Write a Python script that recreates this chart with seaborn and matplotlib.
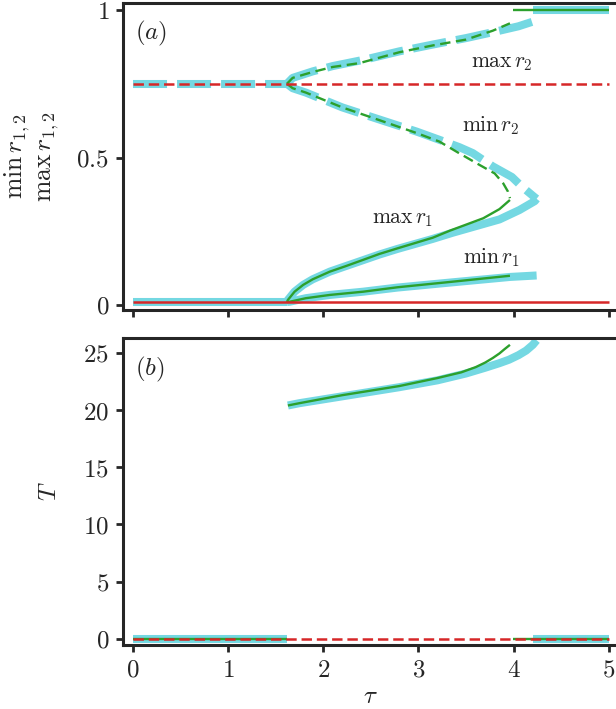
import numpy as np
import matplotlib
matplotlib.use("Agg")
import matplotlib.pyplot as plt
import seaborn as sns

sns.set_style("ticks")
plt.rcParams["mathtext.fontset"] = "cm"
plt.rcParams["font.family"] = ["DejaVu Serif"]
plt.rcParams["lines.scale_dashes"] = False

# colours
CYAN = "#74d8e2"
GREEN = "#2ca02c"
RED = "#d62728"

# ---- panel (a): min / max of r1, r2 vs tau ----
tau_split = 1.62

# green (computed) branches
g_maxr2_tau = [1.62, 1.68, 1.89, 2.1, 2.38, 2.8, 3.15, 3.5, 3.78, 3.96]
g_maxr2_val = [0.75, 0.77, 0.79, 0.807, 0.82, 0.857, 0.88, 0.90, 0.93, 0.955]
g_minr2_tau = [1.62, 1.68, 1.82, 2.2, 2.56, 2.98, 3.22, 3.43, 3.64, 3.80, 3.89, 3.94, 3.96]
g_minr2_val = [0.75, 0.735, 0.72, 0.67, 0.63, 0.583, 0.554, 0.514, 0.475, 0.446, 0.412, 0.384, 0.362]
g_maxr1_tau = [1.62, 1.63, 1.70, 1.79, 1.89, 2.07, 2.24, 2.42, 2.59, 2.78, 3.15, 3.33, 3.43, 3.68, 3.85, 3.96]
g_maxr1_val = [0.01, 0.017, 0.045, 0.068, 0.087, 0.113, 0.132, 0.153, 0.173, 0.192, 0.228, 0.252, 0.264, 0.294, 0.325, 0.356]
g_minr1_tau = [1.62, 1.65, 1.82, 2.07, 2.42, 2.78, 3.3, 3.96]
g_minr1_val = [0.01, 0.011, 0.023, 0.034, 0.045, 0.06, 0.077, 0.099]

# cyan (reference) branches
c_maxr2_tau = [1.62, 1.68, 1.89, 2.1, 2.45, 2.8, 3.15, 3.5, 3.85, 4.05, 4.24]
c_maxr2_val = [0.75, 0.77, 0.792, 0.81, 0.833, 0.86, 0.883, 0.905, 0.93, 0.945, 0.965]
c_minr2_tau = [1.62, 1.68, 1.82, 2.2, 2.56, 2.98, 3.22, 3.43, 3.57, 3.78, 3.98, 4.09, 4.22, 4.24]
c_minr2_val = [0.75, 0.735, 0.72, 0.67, 0.632, 0.588, 0.56, 0.535, 0.515, 0.47, 0.434, 0.40, 0.365, 0.36]
c_maxr1_tau = [1.62, 1.63, 1.70, 1.79, 1.89, 2.07, 2.24, 2.42, 2.59, 2.78, 3.15, 3.36, 3.61, 3.85, 4.06, 4.22, 4.24]
c_maxr1_val = [0.01, 0.017, 0.045, 0.068, 0.087, 0.113, 0.132, 0.152, 0.171, 0.19, 0.224, 0.245, 0.268, 0.29, 0.322, 0.352, 0.36]
c_minr1_tau = [1.62, 1.65, 1.82, 2.07, 2.42, 2.78, 3.3, 3.96, 4.24]
c_minr1_val = [0.01, 0.011, 0.023, 0.034, 0.045, 0.059, 0.075, 0.095, 0.10]

# flat states
flat_low = 0.01
flat_mid = 0.75
flat_top = 1.0
g_top_start = 3.99
c_top_start = 4.2
tau_end = 5.0

# ---- panel (b): period T vs tau ----
g_T_tau = [1.63, 1.75, 2.2, 2.8, 3.2, 3.45, 3.6, 3.7, 3.78, 3.85, 3.9, 3.96]
g_T_val = [20.4, 20.6, 21.3, 22.1, 22.8, 23.3, 23.75, 24.15, 24.55, 24.95, 25.3, 25.7]
c_T_tau = [1.63, 1.75, 2.2, 2.8, 3.2, 3.5, 3.7, 3.85, 3.95, 4.05, 4.13, 4.2, 4.24]
c_T_val = [20.4, 20.6, 21.2, 22.0, 22.6, 23.2, 23.7, 24.1, 24.4, 24.8, 25.2, 25.7, 26.1]

CYAN_DASH = (0, (24.5, 7.2))
GREEN_DASH = (0, (7.5, 4.0))
RED_DASH = (0, (7.5, 3.5))


def line(ax, x, y, kind, ls="-"):
    style = {
        "cyan": dict(color=CYAN, linewidth=5.8, zorder=1),
        "green": dict(color=GREEN, linewidth=1.7, zorder=2),
        "red": dict(color=RED, linewidth=1.8, zorder=3),
    }[kind]
    sns.lineplot(x=x, y=y, ax=ax, estimator=None, sort=False, legend=False,
                 linestyle=ls, solid_capstyle="butt", dash_capstyle="butt",
                 solid_joinstyle="round", **style)


fig = plt.figure(figsize=(6.16, 7.09), dpi=100)
ax1 = fig.add_axes([0.1997, 0.5628, 0.8045, 0.433])
ax2 = fig.add_axes([0.1997, 0.0903, 0.8045, 0.433])

# panel (a)
line(ax1, [0, tau_split], [flat_low, flat_low], "cyan")
line(ax1, [0, tau_split], [flat_mid, flat_mid], "cyan", CYAN_DASH)
line(ax1, [c_top_start, tau_end], [flat_top, flat_top], "cyan")
line(ax1, c_maxr2_tau, c_maxr2_val, "cyan", CYAN_DASH)
line(ax1, c_minr2_tau, c_minr2_val, "cyan", CYAN_DASH)
line(ax1, c_maxr1_tau, c_maxr1_val, "cyan")
line(ax1, c_minr1_tau, c_minr1_val, "cyan")

line(ax1, [g_top_start, tau_end], [flat_top, flat_top], "green")
line(ax1, g_maxr2_tau, g_maxr2_val, "green", GREEN_DASH)
line(ax1, g_minr2_tau, g_minr2_val, "green", GREEN_DASH)
line(ax1, g_maxr1_tau, g_maxr1_val, "green")
line(ax1, g_minr1_tau, g_minr1_val, "green")

line(ax1, [0, tau_end], [flat_low, flat_low], "red")
line(ax1, [0, tau_end], [flat_mid, flat_mid], "red", RED_DASH)

# panel (b)
line(ax2, [0, tau_split], [0, 0], "cyan")
line(ax2, [c_top_start, tau_end], [0, 0], "cyan")
line(ax2, c_T_tau, c_T_val, "cyan")
line(ax2, [0, tau_split], [0, 0], "green")
line(ax2, [g_top_start, tau_end], [0, 0], "green")
line(ax2, g_T_tau, g_T_val, "green")
line(ax2, [0, tau_end], [0, 0], "red", RED_DASH)

FS = 18
for ax in (ax1, ax2):
    ax.set_xlim(-0.1, 5.1)
    ax.set_xticks([0, 1, 2, 3, 4, 5])
    for sp in ax.spines.values():
        sp.set_linewidth(2.2)
        sp.set_visible(True)
    ax.tick_params(direction="out", length=5, width=2, pad=5, labelsize=FS)
    ax.set_xlabel("")
    ax.set_ylabel("")

ax1.set_ylim(-0.017, 1.024)
ax1.set_yticks([0, 0.5, 1])
ax1.set_yticklabels(["$0$", "$0.5$", "$1$"])
ax1.set_xticklabels([])

ax2.set_ylim(-0.53, 26.3)
ax2.set_yticks([0, 5, 10, 15, 20, 25])
ax2.set_yticklabels([f"${v}$" for v in [0, 5, 10, 15, 20, 25]])
ax2.set_xticklabels([f"${v}$" for v in range(6)])

ax1.set_ylabel("$\\min\\, r_{1,2}$\n$\\max\\, r_{1,2}$", fontsize=18.5, linespacing=0.95)
ax1.yaxis.set_label_coords(-0.125, 0.5)
ax2.set_ylabel("$T$", fontsize=FS)
ax2.yaxis.set_label_coords(-0.125, 0.5)
ax2.set_xlabel("$\\tau$", fontsize=FS)
ax2.xaxis.set_label_coords(0.5, -0.13)

ax1.text(0.024, 0.90, "$(a)$", transform=ax1.transAxes, fontsize=FS, va="center")
ax2.text(0.024, 0.896, "$(b)$", transform=ax2.transAxes, fontsize=FS, va="center")

lab = 15.5
ax1.text(3.87, 0.824, "$\\max\\, r_2$", fontsize=lab, ha="center", va="center")
ax1.text(3.76, 0.607, "$\\min\\, r_2$", fontsize=lab, ha="center", va="center")
ax1.text(2.83, 0.295, "$\\max\\, r_1$", fontsize=lab, ha="center", va="center")
ax1.text(3.77, 0.159, "$\\min\\, r_1$", fontsize=lab, ha="center", va="center")

fig.savefig("out.png", dpi=100)
